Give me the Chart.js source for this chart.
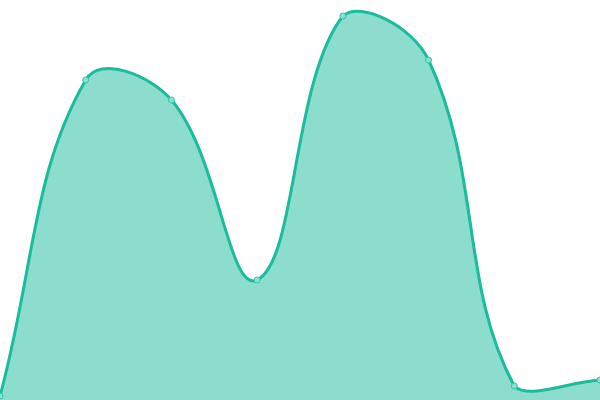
<!DOCTYPE html>
<html>
<head>
<meta charset="utf-8">
<script src="https://cdn.jsdelivr.net/npm/chart.js@4"></script>
<style>
  html, body { margin: 0; padding: 0; background: #fff; }
  #wrap { width: 600px; height: 400px; }
</style>
</head>
<body>
<div id="wrap"><canvas id="myChart"></canvas></div>
<script>
const labels = ["1", "2", "3", "4", "5", "6", "7", "8"];
const values = [4, 320, 300, 120, 384, 340, 14, 20];

const green = "rgb(26, 188, 156)";
const greenFill = "rgba(26, 188, 156, 0.5)";

new Chart(document.getElementById("myChart"), {
  type: "line",
  data: {
    labels: labels,
    datasets: [
      {
        data: values,
        borderColor: green,
        borderWidth: 3,
        backgroundColor: greenFill,
        fill: "origin",
        tension: 0.4,
        pointRadius: 3,
        pointBorderWidth: 1,
        pointBackgroundColor: "rgb(140, 224, 207)",
        pointBorderColor: "rgb(50, 196, 166)",
      },
    ],
  },
  options: {
    responsive: true,
    maintainAspectRatio: false,
    animation: false,
    layout: { padding: 0, autoPadding: false },
    scales: {
      x: { display: false },
      y: { display: false, min: 0, max: 400 },
    },
    plugins: {
      legend: { display: false },
      tooltip: { enabled: false },
    },
  },
});
</script>
</body>
</html>
